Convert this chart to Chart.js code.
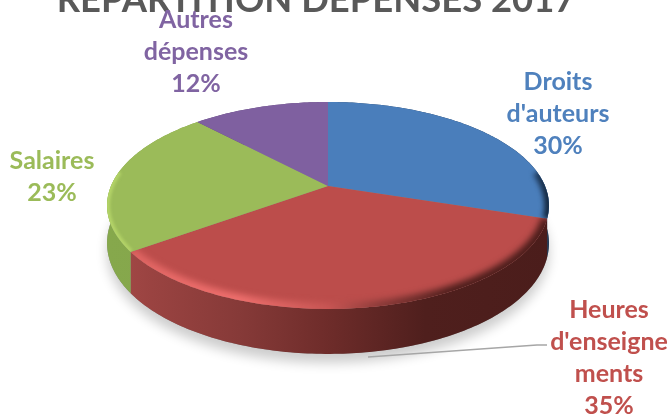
<!DOCTYPE html>
<html>
<head>
<meta charset="utf-8">
<title>Répartition dépenses 2017</title>
<script src="https://cdn.jsdelivr.net/npm/chart.js@4"></script>
<style>
  html, body { margin: 0; padding: 0; background: #fff; overflow: hidden; }
  #wrap { width: 672px; height: 418px; }
</style>
</head>
<body>
<div id="wrap"><canvas id="pie" width="672" height="418"></canvas></div>
<script>
const categories = ["Droits d'auteurs", "Heures d'enseignements", "Salaires", "Autres dépenses"];
const shares = [30, 35, 23, 12];
const labelLines = [["Droits", "d'auteurs"], ["Heures", "d'enseigne", "ments"], ["Salaires"], ["Autres", "dépenses"]];
const topColors = ["#4a7ebb", "#bc4d4b", "#9bbb59", "#7f60a0"];
const textColors = ["#4f81bd", "#c0504d", "#9bbb59", "#8064a2"];

// where each label block sits: centre x, first line y
const labelPos = [[558, 82], [609, 310], [52, 161], [196, 20]];
const lineGap = 32;

// perspective of the disc: centre, half axes, tilt
const view = { cx: 328, cy: 186, a: 217, b: 99.8, k: 0.188 };

function project(angle, down) {
  const u = Math.cos(angle), v = Math.sin(angle);
  const w = 1 - view.k * v;
  const x = view.cx + view.a * u / w;
  const y = view.cy + view.b * v / w;
  if (!down) return [x, y];
  // lower edge of the disc
  return [x, y + 36 + 9 * Math.max(v, 0)];
}

function arcPoints(start, end, down) {
  const n = Math.max(2, Math.ceil((end - start) * 60));
  const pts = [];
  for (let i = 0; i <= n; i++) pts.push(project(start + (end - start) * i / n, down));
  return pts;
}

function trace(ctx, pts, joined) {
  pts.forEach((p, i) => (i || joined) ? ctx.lineTo(p[0], p[1]) : ctx.moveTo(p[0], p[1]));
}

function sideGradient(ctx, stops) {
  const g = ctx.createLinearGradient(107, 0, 549, 0);
  stops.forEach(s => g.addColorStop(s[0], s[1]));
  return g;
}

const wallStops = [
  [[0, "#2a4a73"], [1, "#1b3350"]],
  [[0, "#a54a48"], [0.1, "#9a4341"], [0.3, "#863a38"], [0.5, "#6e2c2a"], [0.72, "#4f1f1d"], [1, "#4b1d1b"]],
  [[0, "#86a84c"], [1, "#7d9d47"]],
  [[0, "#5f4678"], [1, "#5f4678"]]
];
const rimStops = [
  [[0, "rgba(74,126,187,0)"], [0.8, "rgba(74,126,187,0)"], [0.95, "#2c4f7a"], [1, "#14283f"]],
  [[0, "#d65f5d"], [0.15, "#e86a68"], [0.3, "#ee6f6d"], [0.5, "#c85654"], [0.62, "#8a3a38"], [0.78, "#4f1f1d"], [1, "#4b1d1b"]],
  [[0, "#b4d468"], [0.1, "#b0d066"], [1, "#a8c860"]],
  [[0, "rgba(127,96,160,0)"], [1, "rgba(127,96,160,0)"]]
];
// bevel stroke per slice: width, blur
const rimWidth = [10, 12, 6, 0];
const rimBlur = [2.5, 3, 1.5, 0];

const discPlugin = {
  id: "disc",
  beforeDatasetsDraw(chart) {
    const ctx = chart.ctx;
    const arcs = chart.getDatasetMeta(0).data;

    // soft shadow under the whole disc
    ctx.save();
    ctx.shadowColor = "rgba(0,0,0,0.2)";
    ctx.shadowBlur = 12;
    ctx.shadowOffsetY = 9;
    ctx.fillStyle = "#8a8a8a";
    ctx.beginPath();
    trace(ctx, arcPoints(0, Math.PI * 2, true));
    ctx.closePath();
    ctx.fill();
    ctx.restore();

    // side walls
    arcs.forEach((arc, i) => {
      const top = arcPoints(arc.startAngle, arc.endAngle, false);
      const low = arcPoints(arc.startAngle, arc.endAngle, true).reverse();
      ctx.fillStyle = sideGradient(ctx, wallStops[i]);
      ctx.beginPath();
      trace(ctx, top.concat(low));
      ctx.closePath();
      ctx.fill();
    });

    // top faces with a soft bevel along the rim
    arcs.forEach((arc, i) => {
      const rim = arcPoints(arc.startAngle, arc.endAngle, false);
      ctx.save();
      ctx.beginPath();
      ctx.moveTo(view.cx, view.cy);
      trace(ctx, rim, true);
      ctx.closePath();
      ctx.fillStyle = arc.options.backgroundColor;
      ctx.fill();
      ctx.clip();
      const lit = [];
      const n = 160;
      for (let j = 0; j <= n; j++) {
        const t = arc.startAngle + (arc.endAngle - arc.startAngle) * j / n;
        if (Math.sin(t) > -0.15) lit.push(project(t, false));
      }
      if (lit.length > 1 && rimWidth[i]) {
        ctx.filter = "blur(" + rimBlur[i] + "px)";
        ctx.strokeStyle = sideGradient(ctx, rimStops[i]);
        ctx.lineWidth = rimWidth[i];
        ctx.beginPath();
        trace(ctx, lit);
        ctx.stroke();
      }
      ctx.restore();
    });
    return false;
  },
  afterDraw(chart) {
    const ctx = chart.ctx;

    // leader line to the red slice label
    ctx.save();
    ctx.strokeStyle = "#a6a6a6";
    ctx.lineWidth = 1.5;
    ctx.beginPath();
    ctx.moveTo(368, 357);
    ctx.lineTo(537, 345);
    ctx.lineTo(547, 345);
    ctx.stroke();

    ctx.font = "bold 25px Lato";
    ctx.textAlign = "center";
    ctx.textBaseline = "middle";
    categories.forEach((name, i) => {
      const lines = labelLines[i].concat(shares[i] + "%");
      ctx.fillStyle = textColors[i];
      lines.forEach((line, j) => {
        ctx.fillText(line, labelPos[i][0], labelPos[i][1] + j * lineGap);
      });
    });
    ctx.restore();
  }
};

new Chart(document.getElementById("pie"), {
  type: "pie",
  data: {
    labels: categories,
    datasets: [{ data: shares, backgroundColor: topColors, borderWidth: 0 }]
  },
  options: {
    responsive: false,
    animation: false,
    layout: { padding: { right: 40 } },
    plugins: {
      legend: { display: false },
      tooltip: { enabled: false },
      title: {
        display: true,
        text: "REPARTITION DEPENSES 2017",
        color: "#595959",
        font: { family: "Lato", size: 36.4, weight: "bold" },
        padding: { top: -22, bottom: 0 }
      }
    }
  },
  plugins: [discPlugin]
});
</script>
</body>
</html>
